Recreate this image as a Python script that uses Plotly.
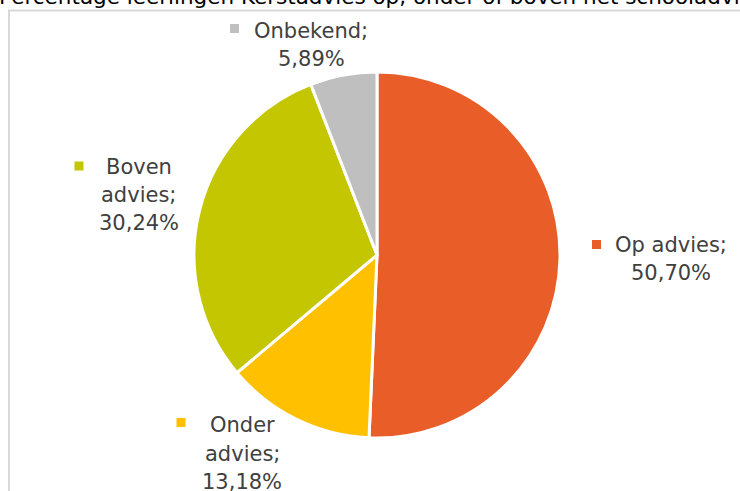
import plotly.graph_objects as go

# ---- data ----
labels = ["Op advies", "Onder advies", "Boven advies", "Onbekend"]
values = [50.70, 13.18, 30.24, 5.89]
colors = ["#E95E28", "#FFC000", "#C3C600", "#BFBFBF"]
title_text = "Percentage leerlingen Kerstadvies op, onder of boven het schooladvies"

# ---- layout config (pixel positions in the 740x491 page) ----
W, H = 740, 491
label_pos = {  # label: (text centre x, first-line centre y, marker centre x, marker centre y, wrap)
    "Op advies": (671, 244.5, 596.5, 244.5, False),
    "Onder advies": (242, 425, 181, 422.5, True),
    "Boven advies": (138.5, 166.5, 79, 166, True),
    "Onbekend": (311, 31, 234.5, 28.5, False),
}
line_step = 28.5
font_family = "DejaVu Sans"
font_size = 21
text_color = "#404040"


def px(x):
    return x / W


def py(y):
    return 1 - y / H


fig = go.Figure(
    go.Pie(
        labels=labels,
        values=values,
        sort=False,
        direction="clockwise",
        rotation=0,
        marker=dict(colors=colors, line=dict(color="white", width=3)),
        textinfo="none",
        hoverinfo="label+percent",
        showlegend=False,
        domain=dict(x=[px(194), px(560)], y=[py(438), py(72)]),
    )
)

annotations = []
shapes = []

# chart-area frame (extends past the right and bottom edge)
shapes.append(dict(type="rect", xref="paper", yref="paper",
                   x0=px(9), x1=px(W + 20), y0=py(H + 20), y1=py(10.5),
                   line=dict(color="#D9D9D9", width=2), fillcolor="rgba(0,0,0,0)"))

# clipped title at the top
annotations.append(dict(text=title_text, xref="paper", yref="paper",
                        x=px(-3), y=py(-4), xanchor="left", yanchor="middle",
                        showarrow=False,
                        font=dict(family=font_family, size=21.5, color="#000000")))

for lab, val, col in zip(labels, values, colors):
    cx, cy, mx, my, wrap = label_pos[lab]
    lines = (lab.split(" ") if wrap else [lab])
    lines[-1] = lines[-1] + ";"
    lines.append(f"{val:.2f}".replace(".", ",") + "%")
    for i, ln in enumerate(lines):
        annotations.append(dict(text=ln, xref="paper", yref="paper",
                                x=px(cx), y=py(cy + i * line_step),
                                xanchor="center", yanchor="middle", showarrow=False,
                                font=dict(family=font_family, size=font_size, color=text_color)))
    s = 4.5
    shapes.append(dict(type="rect", xref="paper", yref="paper",
                       x0=px(mx - s), x1=px(mx + s), y0=py(my + s), y1=py(my - s),
                       line=dict(width=0), fillcolor=col))

fig.update_layout(
    width=W, height=H,
    margin=dict(l=0, r=0, t=0, b=0),
    paper_bgcolor="white", plot_bgcolor="white",
    annotations=annotations, shapes=shapes,
)

fig.write_html(
    "out.html",
    config={"displayModeBar": False},
    post_script="document.body.style.margin='0';document.body.style.overflow='hidden';",
)
